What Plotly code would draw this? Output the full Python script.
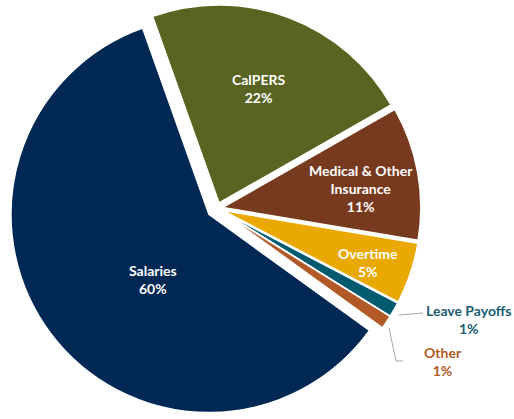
import plotly.graph_objects as go

# ---- data ----
labels = ["CalPERS", "Medical & Other<br>Insurance", "Overtime", "Leave Payoffs", "Other", "Salaries"]
values = [22.2, 10.9, 5.0, 1.2, 1.1, 59.6]
colors = ["#5A6421", "#783A1E", "#E9A900", "#005A70", "#B25A27", "#002855"]
label_colors = ["white", "white", "white", "#1B5E73", "#B35A28", "white"]

# ---- styling / layout helpers (not data) ----
pulls = [0.03, 0.03, 0.03, 0.03, 0.03, 0.0505]
W, H = 514, 419
# label block centres in pixels (x, y from top)
label_pos = [(258, 89), (361, 189), (368, 262), (468, 319), (443, 361), (153, 279)]

fig = go.Figure(go.Pie(
    labels=labels,
    values=values,
    sort=False,
    direction="clockwise",
    rotation=-19.6,
    pull=pulls,
    marker=dict(colors=colors, line=dict(color="white", width=1.5)),
    textinfo="none",
    domain=dict(x=[9 / W, 425 / W], y=[2.5 / H, 418.5 / H]),
    showlegend=False,
    hoverinfo="label+percent",
))

total = sum(values)
for lab, v, col, (px, py) in zip(labels, values, label_colors, label_pos):
    fig.add_annotation(
        x=px / W, y=1 - py / H, xref="paper", yref="paper",
        xanchor="center", yanchor="middle",
        text=f"<b>{lab}<br>{round(100 * v / total)}%</b>",
        showarrow=False, align="center",
        font=dict(family="Lato", size=14, color=col),
    )

# leader lines for the two small slices
def P(x, y):
    return f"{x / W:.5f} {1 - y / H:.5f}"

fig.add_shape(type="path", xref="paper", yref="paper",
              path=f"M {P(399, 315)} L {P(423, 313)}",
              line=dict(color="#A6A6A6", width=1))
fig.add_shape(type="path", xref="paper", yref="paper",
              path=f"M {P(389, 328)} L {P(396, 361)} L {P(403, 361)}",
              line=dict(color="#A6A6A6", width=1))

fig.update_layout(width=W, height=H, margin=dict(l=0, r=0, t=0, b=0),
                  paper_bgcolor="white", plot_bgcolor="white")
fig.write_html("out.html", config={"displayModeBar": False},
               post_script="document.body.style.margin='0';")
